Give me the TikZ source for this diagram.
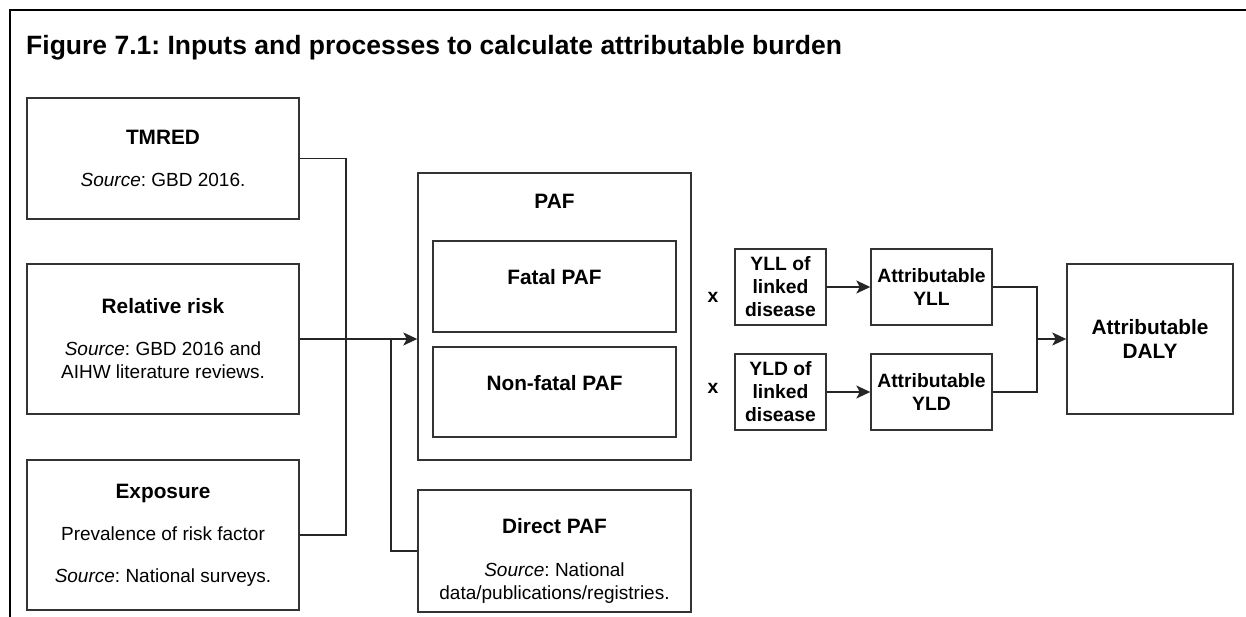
\documentclass[tikz,border=0pt]{standalone}
\usepackage{fontspec}
\setmainfont{Liberation Sans}
\usetikzlibrary{arrows.meta}
\frenchspacing
\tikzset{
  box/.style={draw=black!80, line width=1.4pt, align=center, inner sep=0pt,
    font=\fontsize{19}{23}\selectfont},
  head/.style={font=\bfseries\fontsize{20.8}{23.5}\selectfont, align=center},
  small/.style={font=\bfseries\fontsize{19.3}{23}\selectfont},
  wire/.style={draw=black!85, line width=1.4pt},
  arr/.style={-{Stealth[length=14pt,width=13pt,inset=3.5pt]}},
}
\newcommand{\src}{\textit{Source}}

\begin{document}
\begin{tikzpicture}[x=1pt,y=-1pt]
  \useasboundingbox (0,0) rectangle (1246,617);
  \draw[line width=2.5pt] (1246,10) -- (10,10) -- (10,617);
  \node[anchor=base west, inner sep=0pt, font=\bfseries\fontsize{26.5}{30}\selectfont] (title) at (26,55)
    {Figure 7.1: Inputs and processes to calculate attributable burden};

  % inputs on the left
  \node[box, minimum width=272, minimum height=121] (tmred) at (163,158.5)
    {\textbf{\fontsize{20.8}{23}\selectfont TMRED}\\[19pt]\src: GBD 2016.};
  \node[box, minimum width=272, minimum height=150] (rr) at (163,339)
    {\textbf{\fontsize{20.8}{23}\selectfont Relative risk}\\[19pt]\src: GBD 2016 and\\AIHW literature reviews.};
  \node[box, minimum width=272, minimum height=150] (expo) at (163,535)
    {\textbf{\fontsize{20.8}{23}\selectfont Exposure}\\[19pt]Prevalence of risk factor\\[19pt]\src: National surveys.};

  % PAF block
  \node[box, minimum width=273, minimum height=287] (paf) at (554.5,316.5) {};
  \node[head, anchor=base] (paftxt) at (554.5,209) {PAF};
  \node[box, minimum width=243, minimum height=91] (fatal) at (554.5,286.5) {};
  \node[head] (fataltxt) at (554.5,277) {Fatal PAF};
  \node[box, minimum width=243, minimum height=90] (nonfatal) at (554.5,392) {};
  \node[head] (nonfataltxt) at (554.5,383) {Non-fatal PAF};
  \node[box, minimum width=273, minimum height=122] (direct) at (554.5,551) {};
  \node[head, anchor=base] (directtxt) at (554.5,533) {Direct PAF};
  \node[box, draw=none, anchor=base] (directsrc) at (554.5,599) {\src: National\\data/publications/registries.};

  % multipliers
  \node[small] (times1) at (713,297) {x};
  \node[small] (times2) at (713,388) {x};
  \node[box, small, minimum width=91, minimum height=76] (yll) at (780.5,287) {YLL of\\linked\\disease};
  \node[box, small, minimum width=91, minimum height=76] (yld) at (780.5,392) {YLD of\\linked\\disease};
  \node[box, small, minimum width=121, minimum height=76] (attyll) at (931.5,287) {Attributable\\YLL};
  \node[box, small, minimum width=121, minimum height=76] (attyld) at (931.5,392) {Attributable\\YLD};
  \node[box, head, minimum width=166, minimum height=150] (daly) at (1150,339)
    {Attributable\\DALY};

  % connectors
  \coordinate (join) at (346,339);
  \coordinate (branch) at (391,339);
  \coordinate (merge) at (1037,339);
  \draw[wire] (tmred.east) -| (join) |- (expo.east);
  \draw[wire, arr] (rr.east) -- (rr.east -| paf.west);
  \draw[wire] (branch) |- (direct.west);
  \draw[wire, arr] (yll.east) -- (attyll.west);
  \draw[wire, arr] (yld.east) -- (attyld.west);
  \draw[wire] (attyll.east) -| (merge) |- (attyld.east);
  \draw[wire, arr] (merge) -- (daly.west);
\end{tikzpicture}
\end{document}
